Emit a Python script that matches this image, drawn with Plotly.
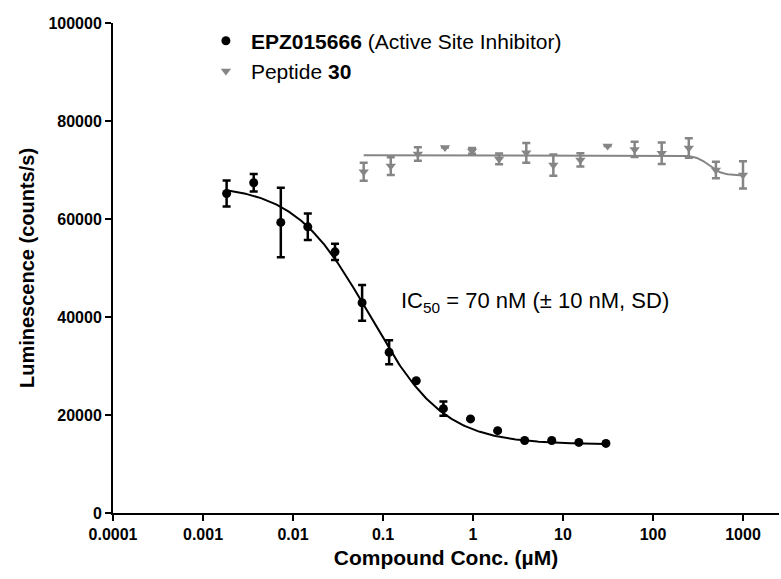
import numpy as np
import plotly.graph_objects as go

# EPZ015666 dose-response (µM, mean counts/s, SD)
epz_conc = [0.00183, 0.00366, 0.00732, 0.0146, 0.0293, 0.0586, 0.117, 0.234,
            0.469, 0.938, 1.88, 3.75, 7.5, 15, 30]
epz_mean = [65200, 67400, 59300, 58400, 53300, 42900, 32800, 27000,
            21300, 19200, 16800, 14800, 14800, 14400, 14200]
epz_sd = [2650, 1800, 7100, 2700, 1650, 3650, 2450, 0,
          1450, 0, 0, 0, 0, 0, 0]

# Peptide 30 dose-response
pep_conc = [0.061, 0.122, 0.244, 0.488, 0.977, 1.95, 3.91, 7.81,
            15.6, 31.3, 62.5, 125, 250, 500, 1000]
pep_mean = [69650, 70800, 73250, 74600, 73900, 72250, 73500, 71000,
            72050, 74900, 74200, 73400, 74500, 70000, 69000]
pep_sd = [1840, 1800, 1370, 0, 600, 1100, 2000, 2150,
          1350, 0, 1550, 2200, 2000, 1700, 2800]

# four-parameter logistic fit parameters
epz_fit = dict(top=67000, bottom=14000, ic50=0.07, hill=1.05)
pep_fit = dict(top=73000, bottom=68900, ic50=420, hill=6.0)

y_ticks = [0, 20000, 40000, 60000, 80000, 100000]
x_ticks = [1e-4, 1e-3, 1e-2, 1e-1, 1, 10, 100, 1000]
x_tick_text = ["0.0001", "0.001", "0.01", "0.1", "1", "10", "100", "1000"]

BLACK = "#000000"
GRAY = "#858585"
FONT = "Arial, Liberation Sans, sans-serif"


def logistic(x, top, bottom, ic50, hill):
    return bottom + (top - bottom) / (1 + (x / ic50) ** hill)


def curve(conc, p):
    xs = np.logspace(np.log10(min(conc)), np.log10(max(conc)), 300)
    return xs, logistic(xs, **p)


fig = go.Figure()

xs, ys = curve(epz_conc, epz_fit)
fig.add_trace(go.Scatter(x=xs, y=ys, mode="lines", line=dict(color=BLACK, width=2),
                         showlegend=False, hoverinfo="skip"))
xs, ys = curve(pep_conc, pep_fit)
fig.add_trace(go.Scatter(x=xs, y=ys, mode="lines", line=dict(color=GRAY, width=2),
                         showlegend=False, hoverinfo="skip"))

fig.add_trace(go.Scatter(
    x=epz_conc, y=epz_mean, mode="markers",
    name="<b>EPZ015666</b> (Active Site Inhibitor)",
    marker=dict(symbol="circle", size=9, color=BLACK),
    error_y=dict(type="data", array=epz_sd, color=BLACK, thickness=2.5, width=4),
))
fig.add_trace(go.Scatter(
    x=pep_conc, y=pep_mean, mode="markers",
    name="Peptide <b>30</b>",
    marker=dict(symbol="triangle-down", size=9, color=GRAY),
    error_y=dict(type="data", array=pep_sd, color=GRAY, thickness=2.5, width=4),
))

fig.add_annotation(
    text="IC<sub>50</sub> = 70 nM (± 10 nM, SD)",
    xref="paper", yref="paper", x=0.43, y=0.431,
    xanchor="left", yanchor="middle", showarrow=False,
    font=dict(family=FONT, size=22, color=BLACK),
)

fig.update_layout(
    width=781, height=579,
    margin=dict(l=113, r=2, t=23, b=66),
    paper_bgcolor="white", plot_bgcolor="white",
    font=dict(family=FONT, color=BLACK),
    legend=dict(x=0.132, y=1.005, xanchor="left", yanchor="top",
                bgcolor="rgba(0,0,0,0)", font=dict(family=FONT, size=21),
                itemwidth=40),
)
fig.update_xaxes(
    type="log", range=[-4, 3.4],
    tickvals=x_ticks, ticktext=[f"<b>{t}</b>" for t in x_tick_text],
    showline=True, linecolor=BLACK, linewidth=2,
    ticks="outside", ticklen=6, tickwidth=2, tickcolor=BLACK,
    showgrid=False, zeroline=False,
    tickfont=dict(family=FONT, size=16, color=BLACK),
    title=dict(text="<b>Compound Conc. (µM)</b>",
               font=dict(family=FONT, size=21, color=BLACK), standoff=8),
)
fig.update_yaxes(
    range=[0, 100000],
    tickvals=y_ticks, ticktext=[f"<b>{v}</b>" for v in y_ticks],
    showline=True, linecolor=BLACK, linewidth=2,
    ticks="outside", ticklen=6, tickwidth=2, tickcolor=BLACK,
    showgrid=False, zeroline=False,
    tickfont=dict(family=FONT, size=16, color=BLACK),
    title=dict(text="<b>Luminescence (counts/s)</b>",
               font=dict(family=FONT, size=20, color=BLACK), standoff=8),
)

fig.write_html("out.html")
